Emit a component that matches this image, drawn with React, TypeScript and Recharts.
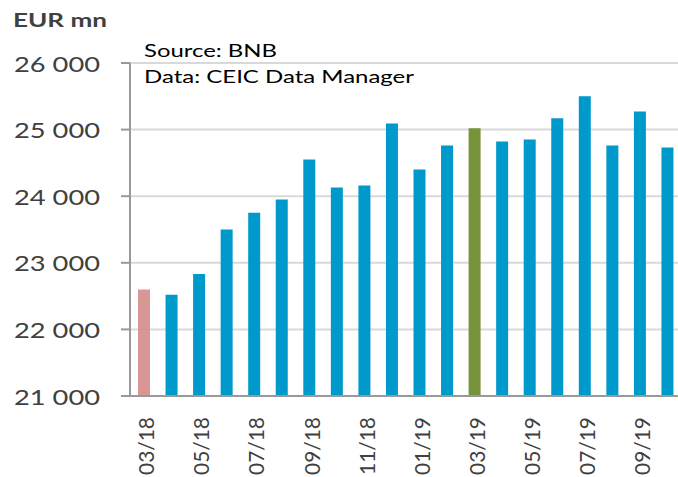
import React from 'react';
import { BarChart, Bar, XAxis, YAxis, CartesianGrid, Cell } from 'recharts';

// Monthly values, EUR mn
const months = [
  '03/18', '04/18', '05/18', '06/18', '07/18', '08/18', '09/18', '10/18', '11/18', '12/18',
  '01/19', '02/19', '03/19', '04/19', '05/19', '06/19', '07/19', '08/19', '09/19', '10/19'
];
const values = [
  22600, 22520, 22830, 23500, 23750, 23950, 24550, 24130, 24160, 25090,
  24400, 24760, 25020, 24820, 24850, 25170, 25500, 24760, 25270, 24730
];
const yTicks = [21000, 22000, 23000, 24000, 25000, 26000];

const BLUE = '#0099CC';
const PINK = '#D99694';
const GREEN = '#77933C';
const FONT = 'Lato, "Open Sans", sans-serif';

const data = months.map((m, i) => ({ month: m, value: values[i] }));

const barColor = (i: number) => (i === 0 ? PINK : i === 12 ? GREEN : BLUE);

const fmt = (v: number) => {
  const s = String(v);
  return s.slice(0, s.length - 3) + ' ' + s.slice(-3);
};

const YTick = (props: any) => {
  const { y, payload } = props;
  return (
    <text
      x={100}
      y={y}
      textAnchor="end"
      dominantBaseline="central"
      fontFamily={FONT}
      fontSize={22}
      fill="#404040"
      textLength={86}
      lengthAdjust="spacingAndGlyphs"
    >
      {fmt(payload.value)}
    </text>
  );
};

const XTick = (props: any) => {
  const { x, payload } = props;
  return (
    <text
      transform={`translate(${x + 2},417) rotate(-90)`}
      textAnchor="end"
      dominantBaseline="central"
      fontFamily={FONT}
      fontSize={22}
      fill="#404040"
      textLength={58}
      lengthAdjust="spacingAndGlyphs"
    >
      {payload.value}
    </text>
  );
};

export default function App() {
  return (
    <div style={{ position: 'absolute', left: 0, top: 0, width: 678, height: 477, overflow: 'hidden', background: '#fff' }}>
      <BarChart
        width={684}
        height={477}
        data={data}
        margin={{ top: 63, right: 3, bottom: 0, left: 0 }}
        barSize={12}
      >
        <CartesianGrid vertical={false} stroke="#d9d9d9" strokeWidth={2} />
        <XAxis
          dataKey="month"
          interval={1}
          tickLine={false}
          axisLine={{ stroke: '#999999', strokeWidth: 2 }}
          height={81}
          tick={<XTick />}
        />
        <YAxis
          domain={[21000, 26000]}
          ticks={yTicks}
          width={130}
          tickSize={9}
          tickLine={{ stroke: '#999999', strokeWidth: 2 }}
          axisLine={{ stroke: '#999999', strokeWidth: 2 }}
          tick={<YTick />}
        />
        <Bar dataKey="value" isAnimationActive={false}>
          {data.map((d, i) => (
            <Cell key={d.month} fill={barColor(i)} />
          ))}
        </Bar>
      </BarChart>
      <svg width={678} height={477} style={{ position: 'absolute', left: 0, top: 0, pointerEvents: 'none' }}>
        <text x={13} y={27} fontFamily={FONT} fontWeight="bold" fontSize={18} fill="#404040" textLength={94} lengthAdjust="spacingAndGlyphs">
          EUR mn
        </text>
        <text x={144} y={57} fontFamily={FONT} fontSize={17} fill="#000" textLength={133} lengthAdjust="spacingAndGlyphs">
          Source: BNB
        </text>
        <text x={144} y={83} fontFamily={FONT} fontSize={17} fill="#000" textLength={270} lengthAdjust="spacingAndGlyphs">
          Data: CEIC Data Manager
        </text>
      </svg>
    </div>
  );
}
